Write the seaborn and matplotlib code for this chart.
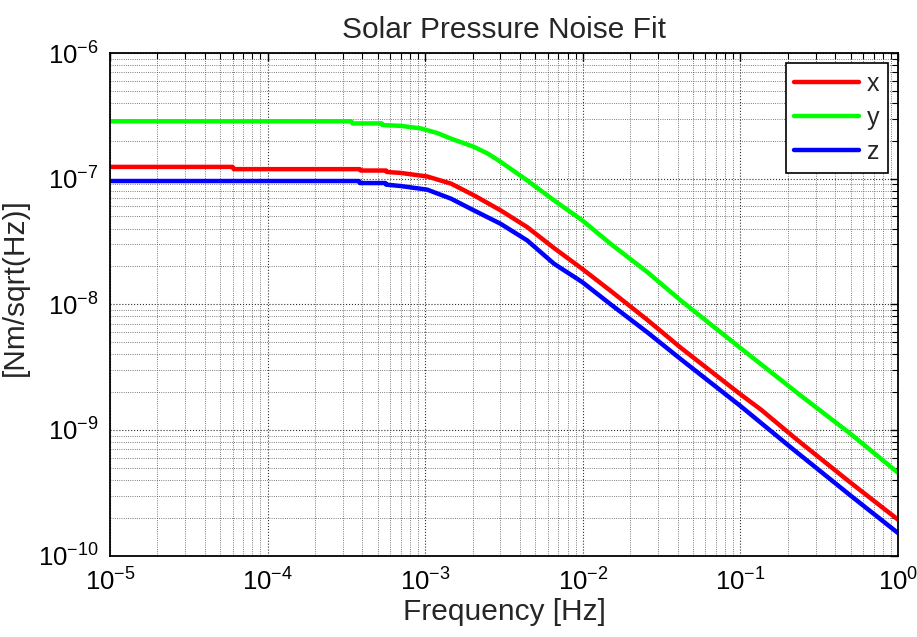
import matplotlib
matplotlib.use("Agg")
import matplotlib.pyplot as plt
import seaborn as sns
import pandas as pd
from matplotlib.ticker import LogLocator, NullFormatter

# ---- data ----
freq_x = [1e-5, 6.0e-5, 6.1e-5, 3.85e-4, 3.9e-4, 5.65e-4, 5.7e-4, 7e-4, 1.03e-3, 1.46e-3,
          2.04e-3, 3.01e-3, 4.44e-3, 6.57e-3, 9.93e-3, 1.5e-2, 2.57e-2, 4.19e-2, 0.1,
          0.135, 0.23, 0.5, 1.0]
vals_x = [1.24e-7, 1.24e-7, 1.19e-7, 1.19e-7, 1.16e-7, 1.16e-7, 1.13e-7, 1.11e-7, 1.04e-7,
          9.12e-8, 7.36e-8, 5.59e-8, 4.11e-8, 2.80e-8, 1.91e-8, 1.28e-8, 7.5e-9, 4.5e-9,
          1.92e-9, 1.45e-9, 8.3e-10, 3.8e-10, 1.93e-10]

freq_y = [1e-5, 3.4e-4, 3.45e-4, 5.3e-4, 5.35e-4, 7e-4, 9.4e-4, 1.2e-3, 1.46e-3, 2.04e-3,
          2.5e-3, 3.01e-3, 4.44e-3, 6.57e-3, 9.93e-3, 1.5e-2, 2.57e-2, 4.19e-2, 0.099, 0.242,
          0.5, 1.0]
vals_y = [2.86e-7, 2.86e-7, 2.75e-7, 2.75e-7, 2.67e-7, 2.63e-7, 2.51e-7, 2.30e-7, 2.08e-7,
          1.79e-7, 1.58e-7, 1.36e-7, 9.68e-8, 6.71e-8, 4.65e-8, 3.03e-8, 1.80e-8, 1.07e-8,
          4.53e-9, 1.87e-9, 9.3e-10, 4.56e-10]

freq_z = [1e-5, 3.8e-4, 3.85e-4, 5.6e-4, 5.65e-4, 7e-4, 1.03e-3, 1.46e-3, 2.04e-3, 3.01e-3,
          4.44e-3, 6.57e-3, 9.93e-3, 1.5e-2, 2.57e-2, 4.19e-2, 0.1, 0.21, 0.5, 1.0]
vals_z = [9.57e-8, 9.57e-8, 9.22e-8, 9.22e-8, 8.96e-8, 8.73e-8, 8.17e-8, 6.92e-8, 5.58e-8,
          4.37e-8, 3.22e-8, 2.10e-8, 1.50e-8, 1.00e-8, 5.97e-9, 3.65e-9, 1.55e-9, 7.21e-10,
          3.0e-10, 1.51e-10]

series_names = ["x", "y", "z"]
series_colors = ["#ff0000", "#00ff00", "#0000ff"]

title_text = "Solar Pressure Noise Fit"
xlabel_text = "Frequency [Hz]"
ylabel_text = "[Nm/sqrt(Hz)]"

# ---- build long-form table ----
frames = []
for name, f, v in zip(series_names, [freq_x, freq_y, freq_z], [vals_x, vals_y, vals_z]):
    frames.append(pd.DataFrame({"Frequency": f, "Value": v, "axis": name}))
df = pd.concat(frames, ignore_index=True)

sns.set_style("white")
plt.rcParams["font.family"] = ["Liberation Sans", "DejaVu Sans"]
plt.rcParams["mathtext.fontset"] = "custom"
plt.rcParams["mathtext.rm"] = "Liberation Sans"
plt.rcParams["mathtext.it"] = "Liberation Sans:italic"
plt.rcParams["mathtext.bf"] = "Liberation Sans:bold"

fig = plt.figure(figsize=(9.17, 6.37), dpi=100)
ax = fig.add_axes([110 / 917, 1 - 555.5 / 637, (898 - 110) / 917, (555.5 - 53) / 637])

sns.lineplot(data=df, x="Frequency", y="Value", hue="axis", hue_order=series_names,
             palette=series_colors, linewidth=3.2, errorbar=None, sort=True, ax=ax)

ax.set_xscale("log")
ax.set_yscale("log")
ax.set_xlim(1e-5, 1e0)
ax.set_ylim(1e-10, 1e-6)

ax.xaxis.set_major_locator(LogLocator(base=10, numticks=20))
ax.yaxis.set_major_locator(LogLocator(base=10, numticks=20))
ax.xaxis.set_minor_locator(LogLocator(base=10, subs=range(2, 10), numticks=50))
ax.yaxis.set_minor_locator(LogLocator(base=10, subs=range(2, 10), numticks=50))
ax.xaxis.set_minor_formatter(NullFormatter())
ax.yaxis.set_minor_formatter(NullFormatter())

ax.grid(True, which="major", color="#303030", linestyle=":", linewidth=0.8)
ax.grid(True, which="minor", color="#505050", linestyle=":", linewidth=0.6)
ax.set_axisbelow(True)

for s in ax.spines.values():
    s.set_visible(True)
    s.set_color("black")
    s.set_linewidth(1.3)

ax.tick_params(which="both", direction="in", top=True, right=True, colors="black")
ax.tick_params(which="major", length=6, width=1.0, labelsize=18.5)
ax.tick_params(axis="x", which="major", pad=9)
ax.tick_params(axis="y", which="major", pad=8)
ax.tick_params(which="minor", length=4, width=0.8)

ax.set_title(title_text, fontsize=21.5, pad=11)
ax.set_xlabel(xlabel_text, fontsize=21.5, labelpad=2)
ax.set_ylabel(ylabel_text, fontsize=21.5, labelpad=4)
ax.yaxis.set_label_coords(-0.103, 0.535)

sns.move_legend(ax, "upper right", title=None, frameon=True, fancybox=False,
                edgecolor="black", framealpha=1, fontsize=18, borderaxespad=0.4,
                handlelength=2.6, handletextpad=0.3, labelspacing=0.4, borderpad=0.35)
leg = ax.get_legend()
leg.get_frame().set_linewidth(1.2)
for h in leg.get_lines():
    h.set_linewidth(3.2)

fig.savefig("out.png", dpi=100, facecolor="white")
